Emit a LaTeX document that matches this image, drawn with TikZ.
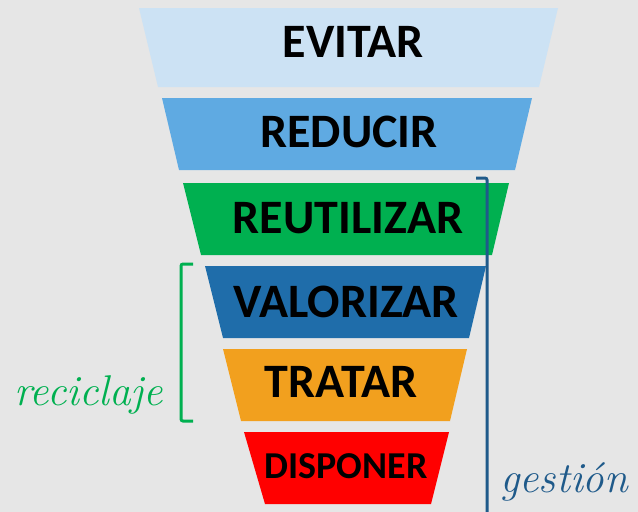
\documentclass[tikz,border=0pt]{standalone}
\usepackage{fontspec}
\newfontfamily\cardfont{Carlito}
\definecolor{bg}{HTML}{E6E6E6}
\definecolor{cEvitar}{HTML}{CCE2F4}
\definecolor{cReducir}{HTML}{5FAAE2}
\definecolor{cReut}{HTML}{00B050}
\definecolor{cValor}{HTML}{1F6DAA}
\definecolor{cTratar}{HTML}{F2A01E}
\definecolor{cDisp}{HTML}{FF0000}
\definecolor{cGest}{HTML}{1F5A8A}
\begin{document}
\begin{tikzpicture}[x=1pt,y=-1pt,
  lvl/.style={font=\cardfont\bfseries\fontsize{48}{52}\selectfont, anchor=base, text=black, inner sep=0pt},
  brk/.style={line width=3pt, rounded corners=2pt},
  hand/.style={font=\itshape\fontsize{43}{46}\selectfont, anchor=base west, inner sep=0pt}]
\fill[bg] (0,0) rectangle (638,512);
\useasboundingbox (0,0) rectangle (638,512);
% trapezoids
\fill[cEvitar] (139,8) -- (558,8) -- (539,87) -- (158,87) -- cycle;
\fill[cReducir] (162,98) -- (532,98) -- (515,170) -- (179,170) -- cycle;
\fill[cReut] (183,183) -- (509,183) -- (492,255) -- (201,255) -- cycle;
\fill[cValor] (205,266) -- (486,266) -- (469,338) -- (223,338) -- cycle;
\fill[cTratar] (223,349) -- (467,349) -- (450,421) -- (241,421) -- cycle;
\fill[cDisp] (244,432) -- (449,432) -- (431,504) -- (265,504) -- cycle;
% labels
\node[lvl] (evitar) at (353,57) {EVITAR};
\node[lvl] (reducir) at (349,147) {REDUCIR};
\node[lvl] (reutilizar) at (348,233) {REUTILIZAR};
\node[lvl] (valorizar) at (346,317) {VALORIZAR};
\node[lvl] (tratar) at (341,397) {TRATAR};
\node[lvl, font=\cardfont\bfseries\fontsize{38}{42}\selectfont] (disponer) at (346,478) {DISPONER};
% brackets
\draw[brk, cReut] (193,264) -- (181,264) -- (181,421) -- (193,421);
\draw[brk, cGest] (476,178) -- (487,178) -- (487,514);
% handwritten labels
\node[hand, text=cReut] (reciclaje) at (14,405) {reciclaje};
\node[hand, text=cGest] (gestion) at (500,492) {gestión};
\end{tikzpicture}
\end{document}
